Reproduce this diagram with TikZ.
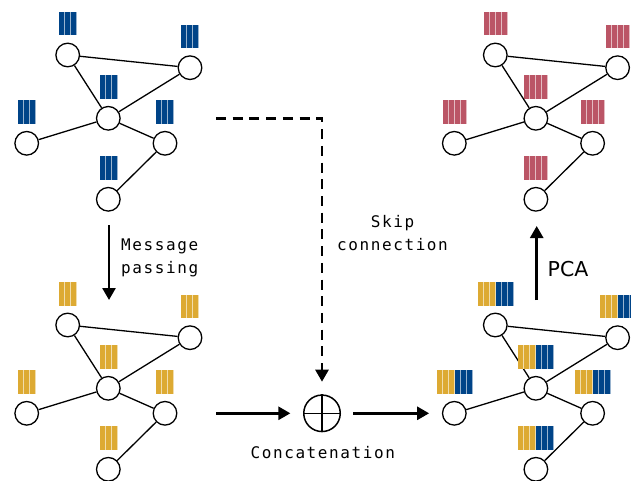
\documentclass[tikz,border=0pt]{standalone}
\usepackage{fontspec}
\setmainfont{DejaVu Sans}
\newfontfamily\lblmono[LetterSpace=10]{DejaVu Sans Mono}
\usetikzlibrary{arrows.meta}
\definecolor{tolblue}{HTML}{004488}
\definecolor{tolyellow}{HTML}{DDAA33}
\definecolor{tolred}{HTML}{BB5566}
\tikzset{
  gnode/.style={circle, draw=black, line width=1.3pt, minimum size=23.6pt, inner sep=0pt, fill=white},
  gedge/.style={line width=1.3pt},
  flow/.style={line width=2.6pt, -{Triangle[length=12pt,width=13pt]}},
  skipflow/.style={flow, dash pattern=on 10pt off 6.7pt},
  monolbl/.style={font=\lblmono\fontsize{16pt}{22.5pt}\selectfont, inner sep=0pt},
}
\newcommand\featbars[3]{%
  \foreach \c [count=\i from 0] in {#3} {
    \fill[\c] (#1.center) ++(-3*#2+0.3+6*\i,-19.5) rectangle ++(4.9,-23.5);
    \fill[\c!40] (#1.center) ++(-3*#2+5.2+6*\i,-19.5) rectangle ++(1,-23.5);
  }%
}
\newcommand\gnet[4]{%
  \begin{scope}[shift={#2}]
    \node[gnode] (#1A) at (67.7,55) {};
    \node[gnode] (#1B) at (190,67.7) {};
    \node[gnode] (#1C) at (108.3,118.3) {};
    \node[gnode] (#1D) at (26.7,143.3) {};
    \node[gnode] (#1E) at (165,143.3) {};
    \node[gnode] (#1F) at (108.3,199.3) {};
  \end{scope}
  \draw[gedge] (#1A) -- (#1B) (#1A) -- (#1C) (#1C) -- (#1B) (#1C) -- (#1D) (#1C) -- (#1E) (#1E) -- (#1F);
  \foreach \n in {A,B,C,D,E,F} { \featbars{#1\n}{#3}{#4} }
}
\begin{document}
\begin{tikzpicture}[x=1pt, y=-1pt]
\useasboundingbox (0,0) rectangle (631,481);
\clip (0,0) rectangle (631,481);
\fill[white] (0,0) rectangle (631,481);

\gnet{ga}{(0,0)}{3}{tolblue,tolblue,tolblue}
\gnet{gb}{(0,270)}{3}{tolyellow,tolyellow,tolyellow}
\gnet{gc}{(427.6,270)}{6}{tolyellow,tolyellow,tolyellow,tolblue,tolblue,tolblue}
\gnet{gd}{(427.6,0)}{4}{tolred,tolred,tolred,tolred}

% concatenation
\node[circle, draw=black, line width=1.5pt, minimum size=36.5pt, inner sep=0pt] (cat) at (322,413.3) {};
\draw[line width=1.3pt] (cat.north) -- (cat.south) (cat.west) -- (cat.east);
\node[monolbl, anchor=base] (catlbl) at (322.8,458.3) {Concatenation};

% message passing
\coordinate (mpS) at (109,225);
\coordinate (mpE) at (109,300);
\draw[flow] (mpS) -- (mpE);
\node[monolbl, anchor=base west, align=left] (mplbl) at (121,273) {Message\\passing};

% skip connection
\coordinate (skS) at (216,118.3);
\draw[skipflow, shorten >=12.6pt] (skS) -| (cat);
\node[monolbl, anchor=base, align=center] (sklbl) at (392.5,250) {Skip\\connection};

% horizontal flow
\coordinate (inS) at (216,413.3);
\draw[flow, shorten >=12.6pt] (inS) -- (cat);
\draw[flow, shorten <=12.3pt, shorten >=12.7pt] (cat) -- (gcD);

% PCA
\coordinate (pcaS) at (536.7,300);
\coordinate (pcaE) at (536.7,226);
\draw[flow] (pcaS) -- (pcaE);
\node[font=\fontsize{20.5pt}{24pt}\selectfont, inner sep=0pt, anchor=base west] (pcalbl) at (547.5,276.7) {PCA};
\end{tikzpicture}
\end{document}
